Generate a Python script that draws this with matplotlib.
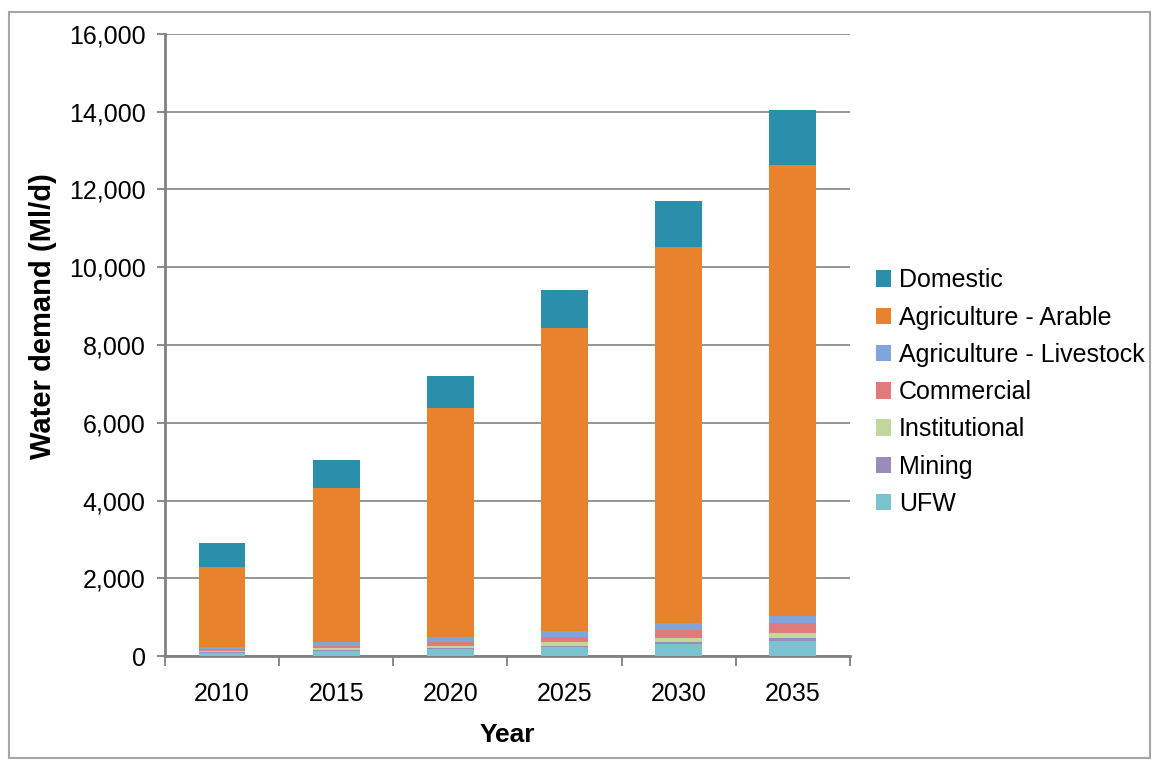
import matplotlib.pyplot as plt
import matplotlib.ticker as ticker
from matplotlib.patches import Rectangle
import numpy as np

plt.rcParams['font.family'] = ['Liberation Sans', 'DejaVu Sans']

years = ['2010', '2015', '2020', '2025', '2030', '2035']

# water demand by sector, Ml/d (bottom of stack first)
ufw = [80, 120, 170, 220, 300, 380]
mining = [20, 30, 40, 50, 60, 80]
institutional = [30, 45, 60, 80, 100, 120]
commercial = [45, 75, 100, 140, 210, 260]
livestock = [45, 90, 120, 150, 180, 200]
arable = [2080, 3970, 5880, 7790, 9665, 11600]
domestic = [600, 700, 830, 980, 1185, 1400]

series = [
    ('UFW', ufw, '#7cc3d2'),
    ('Mining', mining, '#9a8cb8'),
    ('Institutional', institutional, '#c3d69b'),
    ('Commercial', commercial, '#e07a7c'),
    ('Agriculture - Livestock', livestock, '#7ea6dc'),
    ('Agriculture - Arable', arable, '#e9822d'),
    ('Domestic', domestic, '#2b8fab'),
]

fs = 18

fig = plt.figure(figsize=(11.52, 7.6), dpi=100)
ax = fig.add_axes([0.1432, 0.1368, 0.5946, 0.8185])

x = np.arange(len(years))
bottom = np.zeros(len(years))
handles = []
for name, vals, col in series:
    b = ax.bar(x, vals, width=0.41, bottom=bottom, color=col, label=name, zorder=3)
    handles.append(b)
    bottom += np.array(vals)

ax.set_xlim(-0.5, len(years) - 0.5)
ax.set_ylim(0, 16000)
ax.yaxis.set_major_locator(ticker.MultipleLocator(2000))
ax.yaxis.set_major_formatter(ticker.FuncFormatter(lambda v, p: '{:,.0f}'.format(v)))
ax.set_xticks(x)
ax.set_xticklabels(years)
ax.set_xticks(np.arange(-0.5, len(years)), minor=True)

ax.grid(axis='y', color='#8c8c8c', linewidth=1.3, zorder=0)
for s in ['top', 'right']:
    ax.spines[s].set_visible(False)
ax.spines['left'].set_color('#808080')
ax.spines['left'].set_linewidth(2)
ax.spines['bottom'].set_color('#808080')
ax.spines['bottom'].set_linewidth(2)

ax.tick_params(axis='y', length=6, color='#808080', width=1.3, labelsize=fs, pad=8)
ax.tick_params(axis='x', which='major', length=0, labelsize=fs, pad=19)
ax.tick_params(axis='x', which='minor', length=7, color='#808080', width=1.3)

ax.set_ylabel('Water demand (Ml/d)', fontsize=21, fontweight='bold')
ax.yaxis.set_label_coords(-0.158, 0.547)
ax.set_xlabel('Year', fontsize=19, fontweight='bold')
ax.xaxis.set_label_coords(0.5, -0.108)

leg = fig.legend(handles[::-1], [s[0] for s in series[::-1]],
                 loc='upper left', bbox_to_anchor=(0.752, 0.660),
                 frameon=False, fontsize=fs, handlelength=0.6, handleheight=0.65,
                 handletextpad=0.3, labelspacing=0.53, borderaxespad=0)

# outer chart border
fig.patches.append(Rectangle((9 / 1152, 2 / 760), 1141 / 1152, 746 / 760,
                             transform=fig.transFigure, fill=False,
                             edgecolor='#a6a6a6', linewidth=1.5))

fig.savefig('out.png', dpi=100)
